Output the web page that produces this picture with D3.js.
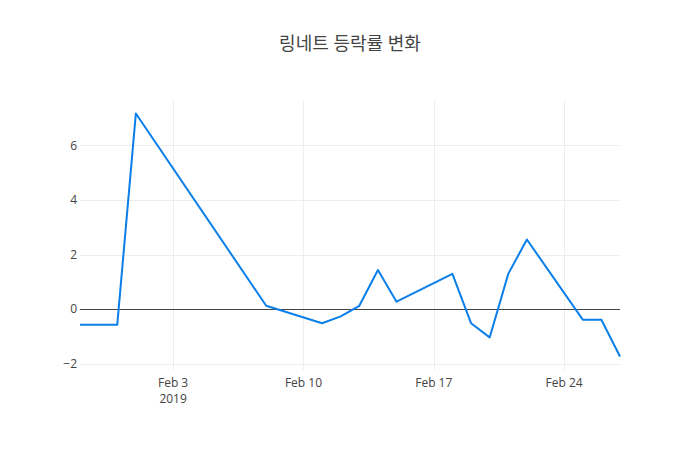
<!DOCTYPE html>
<html>
<head>
<meta charset="utf-8">
<script src="https://cdn.jsdelivr.net/npm/d3@7"></script>
<style>
  html, body { margin: 0; padding: 0; background: #fff; }
  svg { display: block; }
</style>
</head>
<body>
<div id="chart"></div>
<script>
const title = "링네트 등락률 변화";
const dates = ["2019-01-29","2019-01-30","2019-01-31","2019-02-01","2019-02-08","2019-02-11","2019-02-12","2019-02-13","2019-02-14","2019-02-15","2019-02-18","2019-02-19","2019-02-20","2019-02-21","2019-02-22","2019-02-25","2019-02-26","2019-02-27"];
const values = [-0.58,-0.58,-0.58,7.17,0.12,-0.52,-0.27,0.12,1.43,0.27,1.29,-0.52,-1.04,1.29,2.55,-0.39,-0.39,-1.74];
const xTickDates = ["2019-02-03","2019-02-10","2019-02-17","2019-02-24"];
const xTickLabels = ["Feb 3","Feb 10","Feb 17","Feb 24"];
const yTicks = [-2,0,2,4,6];

const W = 700, H = 450;
const m = {l: 80, r: 80, t: 100, b: 80};
const pw = W - m.l - m.r, ph = H - m.t - m.b;
const parse = d3.utcParse("%Y-%m-%d");
const data = dates.map((d, i) => ({date: parse(d), value: values[i]}));

const svg = d3.select("#chart").append("svg").attr("width", W).attr("height", H);
const font = "'Open Sans', verdana, arial, 'Noto Sans CJK KR', sans-serif";

const x = d3.scaleUtc().domain(d3.extent(data, d => d.date)).range([m.l, m.l + pw]);
const ymin = d3.min(values), ymax = d3.max(values);
const pad = (ymax - ymin) * (ph * 0.05) / (ph * 0.9);
const y = d3.scaleLinear().domain([ymin - pad, ymax + pad]).range([m.t + ph, m.t]);
const crisp = v => Math.round(v) + 0.5;

// grid
const g = svg.append("g");
g.selectAll(".vg").data(xTickDates).enter().append("line")
  .attr("x1", d => crisp(x(parse(d)))).attr("x2", d => crisp(x(parse(d))))
  .attr("y1", m.t).attr("y2", m.t + ph)
  .attr("stroke", "#eee").attr("stroke-width", 1);
g.selectAll(".hg").data(yTicks.filter(t => t !== 0)).enter().append("line")
  .attr("x1", m.l).attr("x2", m.l + pw)
  .attr("y1", d => crisp(y(d))).attr("y2", d => crisp(y(d)))
  .attr("stroke", "#eee").attr("stroke-width", 1);

// zero line
svg.append("line").attr("x1", m.l).attr("x2", m.l + pw)
  .attr("y1", crisp(y(0))).attr("y2", crisp(y(0))).attr("stroke", "#444").attr("stroke-width", 1);

// y ticks
svg.selectAll(".yt").data(yTicks).enter().append("text")
  .attr("x", m.l - 3).attr("y", d => y(d)).attr("dy", "0.36em")
  .attr("text-anchor", "end").attr("font-family", font).attr("font-size", 12)
  .attr("fill", "#444").text(d => d < 0 ? "\u2212" + Math.abs(d) : d);

// x ticks
const xt = svg.selectAll(".xt").data(xTickDates).enter().append("text")
  .attr("x", d => x(parse(d))).attr("y", m.t + ph + 17)
  .attr("text-anchor", "middle").attr("font-family", font).attr("font-size", 12)
  .attr("fill", "#444");
xt.append("tspan").attr("x", d => x(parse(d))).text((d, i) => xTickLabels[i]);
xt.filter((d, i) => i === 0).append("tspan").attr("x", d => x(parse(d))).attr("dy", 15.6).text("2019");

// line
svg.append("path").datum(data)
  .attr("fill", "none").attr("stroke", "#0a7fea").attr("stroke-width", 2)
  .attr("stroke-linejoin", "round")
  .attr("d", d3.line().x(d => x(d.date)).y(d => y(d.value)));

// title
svg.append("text").attr("x", W / 2).attr("y", 50).attr("text-anchor", "middle")
  .attr("font-family", font).attr("font-size", 18).attr("fill", "#444").text(title);
</script>
</body>
</html>
